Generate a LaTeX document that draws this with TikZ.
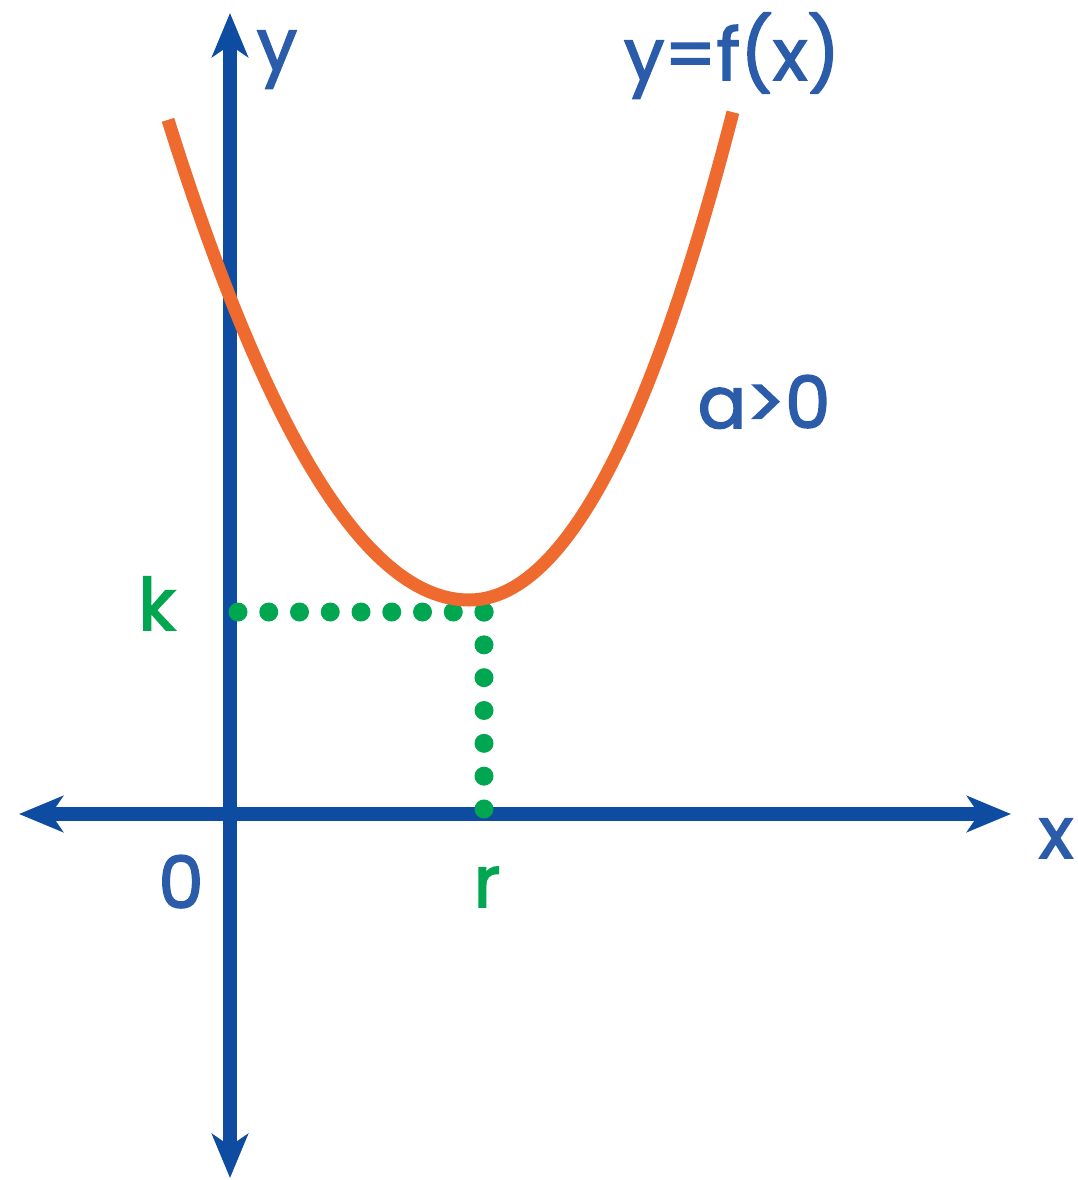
\documentclass[tikz,border=0pt]{standalone}
\usepackage{fontspec}
\setmainfont{Poppins}
\newfontfamily\lblfont{Poppins}[FakeBold=2.2]
\definecolor{axisblue}{RGB}{13, 76, 160}
\definecolor{textblue}{RGB}{42, 92, 170}
\definecolor{dotgreen}{RGB}{0, 166, 80}
\definecolor{curveorange}{RGB}{238, 106, 46}
\usepackage{tikz}
\usetikzlibrary{arrows.meta, positioning, calc}

\begin{document}
\begin{tikzpicture}[x=1pt, y=-1pt,
    axis/.style={draw=axisblue, line width=14pt, {Stealth[length=44pt, width=36pt, inset=12pt]}-{Stealth[length=44pt, width=36pt, inset=12pt]}},
    lbl/.style={font=\fontsize{72}{80}\lblfont, text=textblue, inner sep=0pt, anchor=base},
    glbl/.style={lbl, text=dotgreen},
    dots/.style={draw=dotgreen, line width=19pt, line cap=round, dash pattern=on 0pt off #1}]
  \useasboundingbox (0,0) rectangle (1078,1180);
  \coordinate (xl) at (19,814);
  \coordinate (xr) at (1011,814);
  \coordinate (yt) at (230,13);
  \coordinate (yb) at (230,1178);
  \draw[axis] (xl) -- (xr);
  \draw[axis] (yb) -- (yt);

  \coordinate (kpt) at (238,612);
  \coordinate (vtx) at (484,612);
  \coordinate (rpt) at (484,809);
  \draw[dots=30.75pt] (kpt) -- (vtx);
  \draw[dots=32.83pt] (vtx) -- (rpt);

  \draw[curveorange, line width=13pt]
    plot[domain=-3.01:0, samples=50, smooth] ({469+100*\x}, {600-53*\x*\x})
    -- plot[domain=0:2.64, samples=50, smooth] ({469+100*\x}, {600-63*\x*\x-2.66*\x*\x*\x});

  \node[lbl] (ylbl) at (277,70) {y};
  \node[lbl] (flbl) at (732,80) {y=f(x)};
  \node[lbl] (albl) at (764,428) {a>0};
  \node[glbl] (klbl) at (157,630) {k};
  \node[lbl] (olbl) at (181,908) {0};
  \node[glbl] (rlbl) at (487,907) {r};
  \node[lbl] (xlbl) at (1056,858) {x};
\end{tikzpicture}
\end{document}
